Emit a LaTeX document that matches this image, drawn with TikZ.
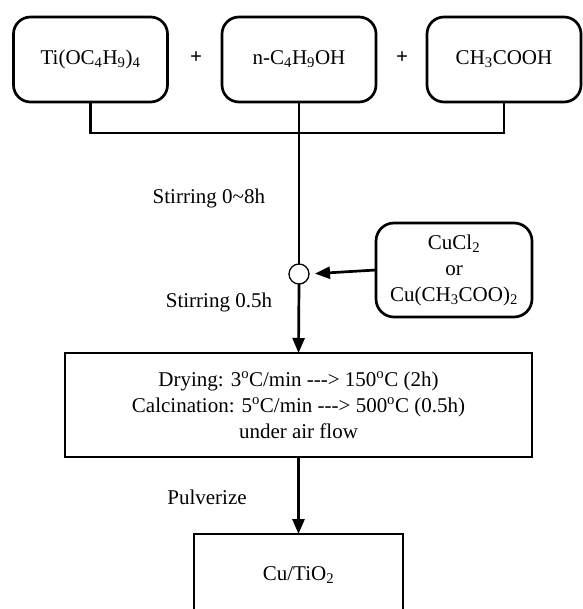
\documentclass[tikz,border=0pt]{standalone}
\usepackage{fontspec}
\setmainfont{Liberation Serif}
\usetikzlibrary{positioning}
\usetikzlibrary{arrows.meta}

\newcommand{\arrowtext}{-{}-{}-{}>}

\begin{document}
\begin{tikzpicture}[
x=1pt,
y=-1pt,
every node/.style={font=\fontsize{21}{26}\selectfont,text=black,outer sep=0pt},
reagent/.style={draw=black,fill=white,rounded corners=17pt,line width=2.7pt,minimum width=154pt,minimum height=85pt,align=center,inner sep=2pt},
dopant/.style={draw=black,fill=white,rounded corners=18pt,line width=2.7pt,minimum width=156pt,minimum height=94pt,align=center,inner sep=2pt},
stage/.style={draw=black,fill=white,line width=2.7pt,minimum width=467pt,minimum height=104pt,align=center,inner sep=2pt},
plusmark/.style={font=\fontsize{21}{26}\selectfont\bfseries,inner sep=0pt},
steplabel/.style={inner sep=0pt},
mixpoint/.style={draw=black,fill=white,circle,line width=1.3pt,minimum size=20pt,inner sep=0pt},
joinline/.style={line width=2.7pt,draw=black},
flowarrow/.style={-{Triangle[length=15pt,width=12pt]},line width=2.7pt,draw=black}
]

\path[use as bounding box] (0,0) rectangle (582,609);

\node[reagent] (ti) at (90.5,59.5) {Ti(OC\textsubscript{4}H\textsubscript{9})\textsubscript{4}};
\node[plusmark] (plusa) at (196,58) {+};
\node[reagent] (butanol) at (299,59.5) {n-C\textsubscript{4}H\textsubscript{9}OH};
\node[plusmark] (plusb) at (402,58) {+};
\node[reagent] (acid) at (504,59.5) {CH\textsubscript{3}COOH};

\coordinate (merge) at (299,133);

\node[mixpoint] (mix) at (299,274) {};
\node[dopant] (salt) at (454,270) {CuCl\textsubscript{2}\\or\\Cu(CH\textsubscript{3}COO)\textsubscript{2}};

\node[steplabel,anchor=east] (stira) at (265,198) {Stirring 0\textasciitilde 8h};
\node[steplabel,anchor=east] (stirb) at (272,302) {Stirring 0.5h};

\node[stage] (calc) at (298.5,405) {Drying: 3\textsuperscript{o}C/min \arrowtext{} 150\textsuperscript{o}C (2h)\\Calcination: 5\textsuperscript{o}C/min \arrowtext{} 500\textsuperscript{o}C (0.5h)\\under air flow};

\node[steplabel] (pulv) at (207,497) {Pulverize};

\node[draw=black,line width=2.7pt,minimum width=209pt,minimum height=82pt,inner sep=2pt] (product) at (298.5,575) {Cu/TiO\textsubscript{2}};

\draw[joinline] (ti.south) |- (merge) -| (acid.south);
\draw[joinline] (butanol.south) -- (mix.north);

\draw[flowarrow,shorten >=6pt] (salt.west) -- (mix.east);
\draw[flowarrow] (mix.south) -- (calc.north);
\draw[flowarrow] (calc.south) -- (product.north);

\end{tikzpicture}
\end{document}
